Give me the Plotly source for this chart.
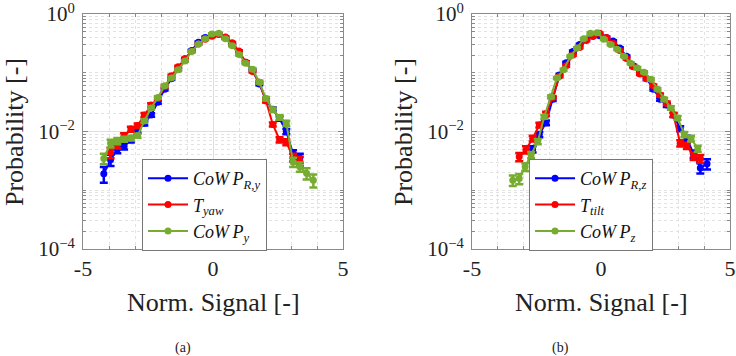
import plotly.graph_objects as go

# ---------------- data: panel (a) ----------------
xa_grid = [-4.20, -3.94, -3.68, -3.42, -3.16, -2.90, -2.64, -2.38, -2.12, -1.86,
           -1.60, -1.34, -1.08, -0.82, -0.56, -0.30, -0.04, 0.22, 0.48, 0.74,
           1.00, 1.26, 1.52, 1.78, 2.04, 2.30, 2.56, 2.82, 3.08, 3.34, 3.60, 3.86]

a_blue_x = xa_grid[0:30]
a_blue_y = [0.00191, 0.00331, 0.00501, 0.00562, 0.00724, 0.0105, 0.0138, 0.0191, 0.0316, 0.0525,
            0.0794, 0.115, 0.162, 0.240, 0.331, 0.398, 0.447, 0.457, 0.389, 0.302,
            0.219, 0.151, 0.110, 0.0646, 0.0339, 0.0240, 0.0166, 0.0100, 0.00417, 0.00355]
a_blue_err = [0.30, 0.22, 0.15, 0.12, 0.10, 0.09, 0.08, 0.07, 0.06, 0.05,
              0.04, 0.04, 0.03, 0.03, 0.03, 0.03, 0.03, 0.03, 0.03, 0.03,
              0.03, 0.04, 0.04, 0.05, 0.06, 0.07, 0.08, 0.10, 0.15, 0.18]

a_red_x = xa_grid[1:30]
a_red_y = [0.00437, 0.00603, 0.00832, 0.0110, 0.0126, 0.0191, 0.0282, 0.0363, 0.0575, 0.0891,
           0.126, 0.174, 0.234, 0.309, 0.372, 0.417, 0.447, 0.407, 0.324, 0.234,
           0.151, 0.105, 0.0692, 0.0331, 0.0132, 0.00724, 0.00661, 0.00363, 0.00316]
a_red_err = [0.20, 0.15, 0.12, 0.10, 0.09, 0.08, 0.07, 0.06, 0.05, 0.04,
             0.04, 0.03, 0.03, 0.03, 0.03, 0.03, 0.03, 0.03, 0.03, 0.03,
             0.04, 0.04, 0.05, 0.06, 0.08, 0.10, 0.12, 0.15, 0.18]

a_green_x = xa_grid[0:32]
a_green_y = [0.00347, 0.00631, 0.00692, 0.00741, 0.00776, 0.00851, 0.0151, 0.0251, 0.0380, 0.0603,
             0.0813, 0.112, 0.158, 0.229, 0.309, 0.380, 0.457, 0.468, 0.380, 0.288,
             0.204, 0.145, 0.115, 0.0692, 0.0363, 0.0234, 0.0174, 0.0138, 0.00302, 0.00251,
             0.00195, 0.00148]
a_green_err = [0.20, 0.15, 0.12, 0.10, 0.09, 0.08, 0.07, 0.06, 0.05, 0.05,
               0.04, 0.04, 0.03, 0.03, 0.03, 0.03, 0.03, 0.03, 0.03, 0.03,
               0.04, 0.04, 0.05, 0.06, 0.07, 0.08, 0.09, 0.10, 0.18, 0.18,
               0.22, 0.25]

# ---------------- data: panel (b) ----------------
b_blue_x = [-2.65, -2.39, -2.13, -1.87, -1.61, -1.35, -1.09, -0.83, -0.57, -0.31,
            -0.05, 0.21, 0.47, 0.73, 0.99, 1.25, 1.51, 1.77, 2.03, 2.29,
            2.55, 2.81, 3.07, 3.33, 3.59, 3.85, 4.11]
b_blue_y = [0.00501, 0.00891, 0.0141, 0.0355, 0.0912, 0.148, 0.229, 0.302, 0.372, 0.417,
            0.427, 0.398, 0.347, 0.263, 0.191, 0.132, 0.100, 0.0794, 0.0525, 0.0355,
            0.0282, 0.0191, 0.0112, 0.00759, 0.00417, 0.00240, 0.00282]
b_blue_err = [0.12, 0.10, 0.09, 0.07, 0.05, 0.04, 0.04, 0.03, 0.03, 0.03,
              0.03, 0.03, 0.03, 0.03, 0.03, 0.04, 0.04, 0.05, 0.05, 0.06,
              0.07, 0.08, 0.10, 0.11, 0.14, 0.20, 0.20]

b_red_x = [-3.17, -2.91, -2.65, -2.39, -2.13, -1.87, -1.61, -1.35, -1.09, -0.83,
           -0.57, -0.31, -0.05, 0.21, 0.47, 0.73, 0.99, 1.25, 1.51, 1.77,
           2.03, 2.29, 2.55, 2.81, 3.07, 3.33, 3.59, 3.85]
b_red_y = [0.00372, 0.00490, 0.00759, 0.0129, 0.0200, 0.0380, 0.0871, 0.132, 0.200, 0.269,
           0.355, 0.417, 0.468, 0.398, 0.316, 0.240, 0.174, 0.126, 0.0955, 0.0794,
           0.0603, 0.0417, 0.0302, 0.0191, 0.00631, 0.00575, 0.00380, 0.00347]
b_red_err = [0.16, 0.14, 0.11, 0.09, 0.08, 0.06, 0.04, 0.04, 0.03, 0.03,
             0.03, 0.03, 0.03, 0.03, 0.03, 0.03, 0.03, 0.04, 0.04, 0.05,
             0.05, 0.06, 0.07, 0.08, 0.12, 0.12, 0.14, 0.15]

b_green_x = [-3.42, -3.17, -2.94, -2.71, -2.45, -2.20, -1.94, -1.71, -1.45, -1.19,
             -0.93, -0.67, -0.41, -0.15, 0.11, 0.37, 0.63, 0.89, 1.15, 1.41,
             1.67, 1.93, 2.19, 2.45, 2.71, 2.97, 3.23, 3.49, 3.75]
b_green_y = [0.00148, 0.00158, 0.00251, 0.00398, 0.00676, 0.0178, 0.0389, 0.0813, 0.112, 0.191,
             0.263, 0.380, 0.468, 0.479, 0.372, 0.302, 0.251, 0.191, 0.145, 0.120,
             0.102, 0.0776, 0.0525, 0.0355, 0.0251, 0.0170, 0.00891, 0.00759, 0.00513]
b_green_err = [0.20, 0.20, 0.15, 0.12, 0.10, 0.07, 0.05, 0.04, 0.04, 0.03,
               0.03, 0.03, 0.03, 0.03, 0.03, 0.03, 0.03, 0.03, 0.04, 0.04,
               0.04, 0.05, 0.05, 0.06, 0.07, 0.08, 0.10, 0.11, 0.12]

# ---------------- labels ----------------
x_ticks = [-5, 0, 5]
x_ticktext = ["-5", "0", "5"]
y_ticks = [1e-4, 1e-2, 1]
y_ticktext = ["10<sup>\u22124</sup>", "10<sup>\u22122</sup>", "10<sup>0</sup>"]
names_a = ["<i>CoW\u2009P</i><sub><i>R,y</i></sub>", "<i>T</i><sub><i>yaw</i></sub>",
           "<i>CoW\u2009P</i><sub><i>y</i></sub>"]
names_b = ["<i>CoW\u2009P</i><sub><i>R,z</i></sub>", "<i>T</i><sub><i>tilt</i></sub>",
           "<i>CoW\u2009P</i><sub><i>z</i></sub>"]
colors = ["#0000FF", "#FF0000", "#77AC30"]

FONT = "Liberation Serif, DejaVu Serif, serif"
W, H = 736, 356

fig = go.Figure()

def add_series(x, y, rel, name, color, xa, ya, legend):
    err = [v * r for v, r in zip(y, rel)]
    fig.add_trace(go.Scatter(
        x=x, y=y, mode="lines+markers", name=name,
        line=dict(color=color, width=2),
        marker=dict(color=color, size=7, symbol="circle"),
        error_y=dict(type="data", array=err, symmetric=True, color=color,
                     thickness=2.5, width=4),
        xaxis=xa, yaxis=ya, legend=legend,
    ))

series_a = [(a_blue_x, a_blue_y, a_blue_err), (a_red_x, a_red_y, a_red_err),
            (a_green_x, a_green_y, a_green_err)]
series_b = [(b_blue_x, b_blue_y, b_blue_err), (b_red_x, b_red_y, b_red_err),
            (b_green_x, b_green_y, b_green_err)]
for (x, y, e), n, c in zip(series_a, names_a, colors):
    add_series(x, y, e, n, c, "x", "y", "legend")
for (x, y, e), n, c in zip(series_b, names_b, colors):
    add_series(x, y, e, n, c, "x2", "y2", "legend2")

minor_y = []
for k in [-4, -3, -2, -1]:
    for m in range(1, 10):
        if m == 1 and k in (-4, -2):
            continue
        minor_y.append(m * 10 ** k)

def xaxis_cfg(domain, anchor):
    return dict(
        domain=domain, anchor=anchor, range=[-5, 5], tickvals=x_ticks, ticktext=x_ticktext,
        automargin=False, ticklabeloverflow="allow",
        showgrid=True, gridcolor="#dedede", gridwidth=1,
        minor=dict(tickvals=[-4, -3, -2, -1, 1, 2, 3, 4], showgrid=True,
                   gridcolor="#e2e2e2", griddash="dot", ticks="inside", ticklen=3,
                   tickcolor="#888"),
        showline=True, linecolor="#8a8a8a", linewidth=1, mirror="ticks",
        ticks="inside", ticklen=5, tickcolor="#888", zeroline=False,
        tickfont=dict(family=FONT, size=22, color="#222"), ticklabelstandoff=0,
    )

def yaxis_cfg(anchor):
    return dict(
        domain=[1 - 249 / H, 1 - 14 / H], anchor=anchor, type="log", range=[-4, 0],
        tickvals=y_ticks, ticktext=y_ticktext,
        automargin=False, ticklabeloverflow="allow",
        showgrid=True, gridcolor="#dedede", gridwidth=1,
        minor=dict(tickvals=minor_y, showgrid=True, gridcolor="#e2e2e2", griddash="dot",
                   ticks="inside", ticklen=3, tickcolor="#888"),
        showline=True, linecolor="#8a8a8a", linewidth=1, mirror="ticks",
        ticks="inside", ticklen=5, tickcolor="#888", zeroline=False,
        tickfont=dict(family=FONT, size=21, color="#222"), ticklabelstandoff=3,
    )

legend_common = dict(
    bgcolor="white", bordercolor="#777", borderwidth=1,
    font=dict(family=FONT, size=18, color="#111"),
    xanchor="left", yanchor="top", tracegroupgap=0, itemwidth=40,
    entrywidth=98, entrywidthmode="pixels",
)

fig.update_layout(
    width=W, height=H, margin=dict(l=0, r=0, t=0, b=0),
    paper_bgcolor="white", plot_bgcolor="white",
    xaxis=xaxis_cfg([83 / W, 343 / W], "y"),
    yaxis=yaxis_cfg("x"),
    xaxis2=xaxis_cfg([472 / W, 730 / W], "y2"),
    yaxis2=yaxis_cfg("x2"),
    legend=dict(x=142 / W, y=1 - 159 / H, **legend_common),
    legend2=dict(x=529 / W, y=1 - 159 / H, **legend_common),
    showlegend=True,
)

annots = [
    dict(text="Norm. Signal [-]", x=213 / W, y=1 - 302 / H, size=26),
    dict(text="Norm. Signal [-]", x=601 / W, y=1 - 302 / H, size=26),
    dict(text="(a)", x=183 / W, y=1 - 348 / H, size=14),
    dict(text="(b)", x=560 / W, y=1 - 348 / H, size=14),
]
for a in annots:
    fig.add_annotation(text=a["text"], x=a["x"], y=a["y"], xref="paper", yref="paper",
                       showarrow=False, xanchor="center", yanchor="middle",
                       font=dict(family=FONT, size=a["size"], color="#222"))
for xp in (14, 403):
    fig.add_annotation(text="Probability [-]", x=xp / W, y=1 - 132 / H, xref="paper", yref="paper",
                       showarrow=False, xanchor="center", yanchor="middle", textangle=-90,
                       font=dict(family=FONT, size=26, color="#222"))

fig.write_html("out.html", config={"displayModeBar": False},
               post_script="document.body.style.margin='0px';")
